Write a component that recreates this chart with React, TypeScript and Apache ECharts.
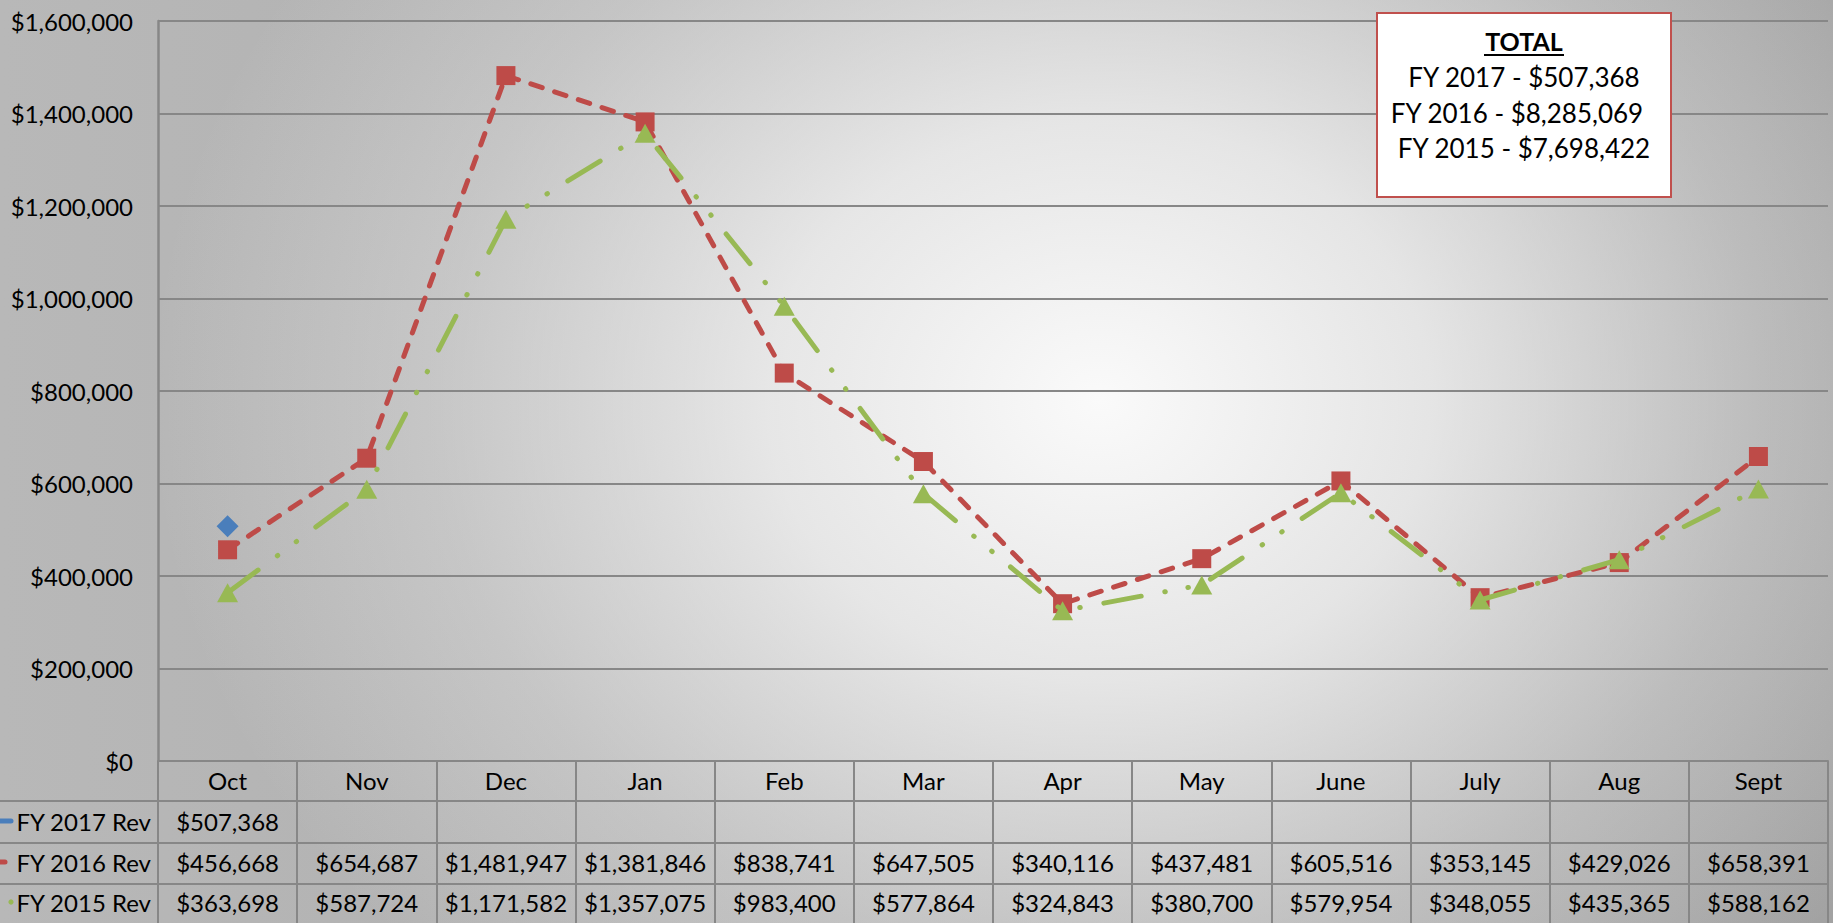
import React, { useEffect, useRef } from "react";
import * as echarts from "echarts";

const months = ["Oct", "Nov", "Dec", "Jan", "Feb", "Mar", "Apr", "May", "June", "July", "Aug", "Sept"];
const fy2017: (number | null)[] = [507368, null, null, null, null, null, null, null, null, null, null, null];
const fy2016: number[] = [456668, 654687, 1481947, 1381846, 838741, 647505, 340116, 437481, 605516, 353145, 429026, 658391];
const fy2015: number[] = [363698, 587724, 1171582, 1357075, 983400, 577864, 324843, 380700, 579954, 348055, 435365, 588162];
const seriesNames = ["FY 2017 Rev", "FY 2016 Rev", "FY 2015 Rev"];
const totalNames = ["FY 2017", "FY 2016", "FY 2015"];
const yMin = 0;
const yMax = 1600000;
const yStep = 200000;

const FONT = "Lato, 'Noto Sans', sans-serif";
const BLUE = "#4a7ebb";
const RED = "#be4b48";
const GREEN = "#98b954";
const GRIDC = "#878787";

const fmt = (v: number | null) => (v == null ? "" : "$" + Math.round(v).toLocaleString("en-US"));

export default function App() {
  const ref = useRef<HTMLDivElement>(null);
  useEffect(() => {
    const el = ref.current!;
    const chart = echarts.init(el, null, { renderer: "svg" });
    const grid = { left: 158, right: 5, top: 21, bottom: 162 };
    chart.setOption({
      animation: false,
      backgroundColor: "transparent",
      grid: { ...grid, containLabel: false },
      xAxis: {
        type: "category",
        data: months,
        boundaryGap: true,
        axisLine: { show: true, lineStyle: { color: GRIDC, width: 2 } },
        axisTick: { show: true, inside: false, length: 162, lineStyle: { color: GRIDC, width: 2 } },
        axisLabel: { color: "#000", fontFamily: FONT, fontSize: 24, margin: 19, verticalAlign: "middle" },
        splitLine: { show: false },
      },
      yAxis: {
        type: "value",
        min: yMin,
        max: yMax,
        interval: yStep,
        axisLine: { show: true, lineStyle: { color: GRIDC, width: 2.5 } },
        axisTick: { show: false },
        axisLabel: { color: "#000", fontFamily: FONT, fontSize: 24, margin: 25, formatter: (v: number) => fmt(v) },
        splitLine: { show: true, lineStyle: { color: GRIDC, width: 2 } },
      },
      series: [
        {
          name: seriesNames[0], type: "line", data: fy2017, symbol: "diamond", symbolSize: 22,
          itemStyle: { color: BLUE }, lineStyle: { color: BLUE, width: 5 }, z: 2,
        },
        {
          name: seriesNames[1], type: "line", data: fy2016, symbol: "rect", symbolSize: 19,
          itemStyle: { color: RED }, lineStyle: { color: RED, width: 5, type: [12, 13], cap: "round" }, z: 3,
        },
        {
          name: seriesNames[2], type: "line", data: fy2015, symbol: "triangle", symbolSize: [21, 19],
          itemStyle: { color: GREEN }, lineStyle: { color: GREEN, width: 5, type: [38, 24, 0.5, 23, 0.5, 24], cap: "round" }, z: 4,
        },
      ],
    });

    const W = chart.getWidth();
    const H = chart.getHeight();
    const pb = H - grid.bottom;
    const pr = W - grid.right;
    const rowLines = [40, 82, 123];
    const rowCenters = [60, 101, 141];
    const xs = months.map((_, i) => chart.convertToPixel({ xAxisIndex: 0 }, i) as number);
    const rows = [fy2017, fy2016, fy2015];
    const g: any[] = [];
    rowLines.forEach((o) => {
      g.push({ type: "line", shape: { x1: 0, y1: pb + o, x2: pr, y2: pb + o }, style: { stroke: GRIDC, lineWidth: 2 }, z: 1 });
    });
    rows.forEach((arr, r) => {
      const y = pb + rowCenters[r];
      g.push({ type: "text", x: 151, y, style: { text: seriesNames[r], fill: "#000", font: `24px ${FONT}`, align: "right", verticalAlign: "middle" } });
      arr.forEach((v, i) => {
        if (v == null) return;
        g.push({ type: "text", x: xs[i], y, style: { text: fmt(v), fill: "#000", font: `24px ${FONT}`, align: "center", verticalAlign: "middle" } });
      });
    });
    // legend keys (cut off at the left edge)
    g.push({ type: "line", shape: { x1: -5, y1: pb + rowCenters[0], x2: 11, y2: pb + rowCenters[0] }, style: { stroke: BLUE, lineWidth: 5, lineCap: "round" } });
    g.push({ type: "line", shape: { x1: -5, y1: pb + rowCenters[1], x2: 5, y2: pb + rowCenters[1] }, style: { stroke: RED, lineWidth: 5, lineCap: "round" } });
    g.push({ type: "circle", shape: { cx: 11, cy: pb + rowCenters[2], r: 2.6 }, style: { fill: GREEN } });

    // totals box
    const bx = 1377, by = 13, bw = 294, bh = 184;
    const cx = bx + bw / 2;
    g.push({ type: "rect", shape: { x: bx, y: by, width: bw, height: bh }, style: { fill: "#fff", stroke: "#c0504d", lineWidth: 2 }, z: 10 });
    g.push({ type: "text", x: cx, y: 41, style: { text: "TOTAL", fill: "#000", font: `bold 25px ${FONT}`, align: "center", verticalAlign: "middle" }, z: 11 });
    g.push({ type: "line", shape: { x1: cx - 40, y1: 55, x2: cx + 40, y2: 55 }, style: { stroke: "#000", lineWidth: 2 }, z: 11 });
    const sums = rows.map((arr) => arr.reduce((a: number, b) => a + (b ?? 0), 0));
    const lineY = [77, 113, 148];
    const lineDx = [0, -7, 0];
    sums.forEach((s, r) => {
      g.push({ type: "text", x: cx + lineDx[r], y: lineY[r], style: { text: `${totalNames[r]} - ${fmt(s)}`, fill: "#000", font: `26px ${FONT}`, align: "center", verticalAlign: "middle" }, z: 11 });
    });
    chart.setOption({ graphic: g });

    return () => chart.dispose();
  }, []);

  return (
    <div
      ref={ref}
      style={{
        position: "fixed",
        left: 0,
        top: 0,
        width: "100vw",
        height: "100vh",
        background:
          "radial-gradient(ellipse 950px 800px at 1100px 400px, rgba(250,250,250,1) 0%, rgba(246,246,246,0.78) 35%, rgba(240,240,240,0.32) 70%, rgba(240,240,240,0) 100%), linear-gradient(to right, #b8b8b8, #a2a2a2)",
      }}
    />
  );
}
